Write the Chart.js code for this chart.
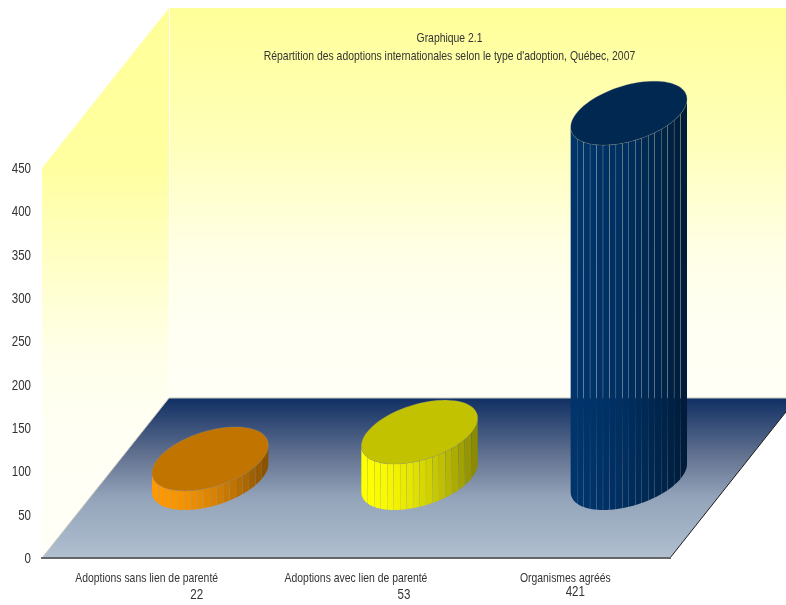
<!DOCTYPE html>
<html lang="fr">
<head>
<meta charset="utf-8">
<title>Graphique 2.1</title>
<script src="https://cdn.jsdelivr.net/npm/chart.js@4/dist/chart.umd.min.js"></script>
<style>
  html, body { margin: 0; padding: 0; background: #fff; }
  canvas { display: block; }
</style>
</head>
<body>
<canvas id="graphique" width="786" height="605"></canvas>
<script>
// Données du graphique
const categories = [
  "Adoptions sans lien de parenté",
  "Adoptions avec lien de parenté",
  "Organismes agréés",
];
const valeurs = [22, 53, 421];
const couleurs = ["#ff9900", "#ffff00", "#00346b"];
const graduations = [0, 50, 100, 150, 200, 250, 300, 350, 400, 450];
const titres = [
  "Graphique 2.1",
  "Répartition des adoptions internationales selon le type d'adoption, Québec, 2007",
];

// Décalage de la profondeur (perspective cavalière)
const PROF_X = 127;
const PROF_Y = -160;
const POLICE = '"Liberation Sans", Arial, sans-serif';
const ENCRE = "#333333";

function assombrir(hex, f) {
  const n = parseInt(hex.slice(1), 16);
  const r = Math.round(((n >> 16) & 255) * f);
  const g = Math.round(((n >> 8) & 255) * f);
  const b = Math.round((n & 255) * f);
  return `rgb(${r},${g},${b})`;
}

// Texte resserré horizontalement (pas de police étroite disponible)
function texteEtroit(ctx, texte, x, y, etroit) {
  ctx.fillText(texte, x, y, ctx.measureText(texte).width * etroit);
}

// Cylindre posé au milieu du plancher, dessiné par bandes verticales
function dessinerCylindre(ctx, x, yHaut, yBase, largeur, couleur) {
  const rx = largeur / 2;
  const px = PROF_X * 0.2;
  const py = PROF_Y * 0.2;
  const R = Math.sqrt(rx * rx + px * px);
  const alpha = Math.atan2(px, rx);
  const cx = x + PROF_X / 2;
  const cyHaut = yHaut + PROF_Y / 2;
  const cyBase = yBase + PROF_Y / 2;

  // point du contour pour un angle phi
  const bord = (phi, cy) => [
    cx + R * Math.cos(phi),
    cy + py * Math.sin(phi + alpha),
  ];

  // petit jour entre les bandes : le fond transparaît en filets
  const nb = 18;
  const jour = 0.12 / R;
  for (let i = 0; i < nb; i++) {
    const u0 = -1 + (2 * i) / nb + (i > 0 ? jour : 0);
    const u1 = -1 + (2 * (i + 1)) / nb - (i < nb - 1 ? jour : 0);
    const a0 = 2 * Math.PI - Math.acos(u0);
    const a1 = 2 * Math.PI - Math.acos(u1);
    const f = (i + 0.5) / nb;
    ctx.beginPath();
    for (let k = 0; k <= 6; k++) {
      const p = bord(a0 + ((a1 - a0) * k) / 6, cyHaut);
      k === 0 ? ctx.moveTo(p[0], p[1]) : ctx.lineTo(p[0], p[1]);
    }
    for (let k = 6; k >= 0; k--) {
      const p = bord(a0 + ((a1 - a0) * k) / 6, cyBase);
      ctx.lineTo(p[0], p[1]);
    }
    ctx.closePath();
    ctx.fillStyle = assombrir(couleur, 1 - 0.48 * Math.pow(f, 1.8));
    ctx.fill();
  }

  // dessus du cylindre
  ctx.beginPath();
  for (let k = 0; k <= 90; k++) {
    const p = bord((k / 90) * 2 * Math.PI, cyHaut);
    k === 0 ? ctx.moveTo(p[0], p[1]) : ctx.lineTo(p[0], p[1]);
  }
  ctx.closePath();
  ctx.fillStyle = assombrir(couleur, 0.76);
  ctx.fill();
  ctx.strokeStyle = "rgba(150,150,150,0.35)";
  ctx.lineWidth = 0.75;
  ctx.stroke();
}

class CylindreController extends Chart.BarController {
  draw() {
    const meta = this.getMeta();
    const ctx = this.chart.ctx;
    meta.data.forEach((barre, i) => {
      dessinerCylindre(ctx, barre.x, barre.y, barre.base, barre.width, couleurs[i]);
    });
  }
}
CylindreController.id = "cylindre";
CylindreController.defaults = Chart.BarController.defaults;
CylindreController.overrides = Chart.BarController.overrides;
Chart.register(CylindreController);

// Murs et plancher, derrière les axes
const decor = {
  id: "decor",
  beforeDraw(chart) {
    const { ctx, chartArea: z } = chart;
    const fond = { g: z.left + PROF_X, h: z.top + PROF_Y, b: z.bottom + PROF_Y };

    // mur du fond
    let grad = ctx.createLinearGradient(0, fond.h, 0, fond.b);
    grad.addColorStop(0, "#ffff99");
    grad.addColorStop(0.35, "#ffffbb");
    grad.addColorStop(0.62, "#ffffe6");
    grad.addColorStop(0.8, "#fffff2");
    grad.addColorStop(1, "#fffff6");
    ctx.fillStyle = grad;
    ctx.fillRect(fond.g, fond.h, chart.width - fond.g, fond.b - fond.h);

    // mur de gauche
    grad = ctx.createLinearGradient(0, fond.h, 0, z.bottom);
    grad.addColorStop(0, "#ffff99");
    grad.addColorStop(0.29, "#ffffa0");
    grad.addColorStop(0.47, "#ffffc8");
    grad.addColorStop(0.62, "#ffffe8");
    grad.addColorStop(0.73, "#fffff2");
    grad.addColorStop(1, "#fffff8");
    ctx.fillStyle = grad;
    ctx.beginPath();
    ctx.moveTo(z.left, z.top);
    ctx.lineTo(fond.g, fond.h);
    ctx.lineTo(fond.g, fond.b);
    ctx.lineTo(z.left, z.bottom);
    ctx.closePath();
    ctx.fill();

    // arête blanche entre les deux murs
    ctx.strokeStyle = "#ffffff";
    ctx.lineWidth = 1;
    ctx.beginPath();
    ctx.moveTo(fond.g + 0.5, fond.h);
    ctx.lineTo(fond.g + 0.5, fond.b);
    ctx.stroke();

    // plancher
    grad = ctx.createLinearGradient(0, fond.b, 0, z.bottom);
    grad.addColorStop(0, "#102f63");
    grad.addColorStop(0.35, "#60708f");
    grad.addColorStop(0.62, "#93a3b9");
    grad.addColorStop(1, "#b0c0d0");
    ctx.fillStyle = grad;
    ctx.beginPath();
    ctx.moveTo(z.left, z.bottom);
    ctx.lineTo(z.right, z.bottom);
    ctx.lineTo(z.right + PROF_X, fond.b);
    ctx.lineTo(fond.g, fond.b);
    ctx.closePath();
    ctx.fill();

    // arêtes du plancher
    ctx.strokeStyle = "#c8c8be";
    ctx.beginPath();
    ctx.moveTo(z.left, z.bottom);
    ctx.lineTo(fond.g, fond.b);
    ctx.lineTo(chart.width, fond.b);
    ctx.stroke();
    ctx.strokeStyle = "#1a1a1a";
    ctx.beginPath();
    ctx.moveTo(z.right, z.bottom);
    ctx.lineTo(z.right + PROF_X, fond.b);
    ctx.stroke();
  },
};

// Titre, étiquettes des axes et valeurs sous les catégories
const textes = {
  id: "textes",
  afterDraw(chart) {
    const { ctx, scales } = chart;
    ctx.save();
    ctx.fillStyle = ENCRE;
    ctx.textBaseline = "middle";
    ctx.textAlign = "center";

    ctx.font = `13px ${POLICE}`;
    titres.forEach((ligne, i) => texteEtroit(ctx, ligne, 449.5, 38 + i * 18, 0.8));
    scales.x.ticks.forEach((t, i) => {
      texteEtroit(ctx, t.label, scales.x.getPixelForTick(i), 578, 0.8);
    });

    const decalX = [50, 48, 10];
    const posY = [595, 595, 592];
    ctx.font = `14px ${POLICE}`;
    valeurs.forEach((v, i) => {
      texteEtroit(ctx, String(v), scales.x.getPixelForValue(i) + decalX[i], posY[i], 0.825);
    });

    ctx.textAlign = "right";
    scales.y.ticks.forEach((t, i) => {
      texteEtroit(ctx, t.label, scales.y.left + 31, scales.y.getPixelForTick(i) + 1, 0.825);
    });
    ctx.restore();
  },
};

new Chart(document.getElementById("graphique"), {
  type: "cylindre",
  data: {
    labels: categories,
    datasets: [
      {
        data: valeurs,
        backgroundColor: couleurs,
        categoryPercentage: 1,
        barPercentage: 0.5,
        clip: false,
      },
    ],
  },
  plugins: [decor, textes],
  options: {
    responsive: false,
    animation: false,
    layout: { padding: { top: 168, right: 116 } },
    plugins: {
      legend: { display: false },
      tooltip: { enabled: false },
    },
    scales: {
      x: {
        type: "category",
        grid: { display: false },
        border: { display: true, color: "#666666", width: 2 },
        afterFit: (s) => { s.height = 47; },
        ticks: { display: false, maxRotation: 0, autoSkip: false },
      },
      y: {
        type: "linear",
        min: 0,
        max: 450,
        grid: { display: false },
        border: { display: false },
        afterFit: (s) => { s.width = 42; },
        afterBuildTicks: (s) => { s.ticks = graduations.map((value) => ({ value })); },
        ticks: { display: false },
      },
    },
  },
});
</script>
</body>
</html>
